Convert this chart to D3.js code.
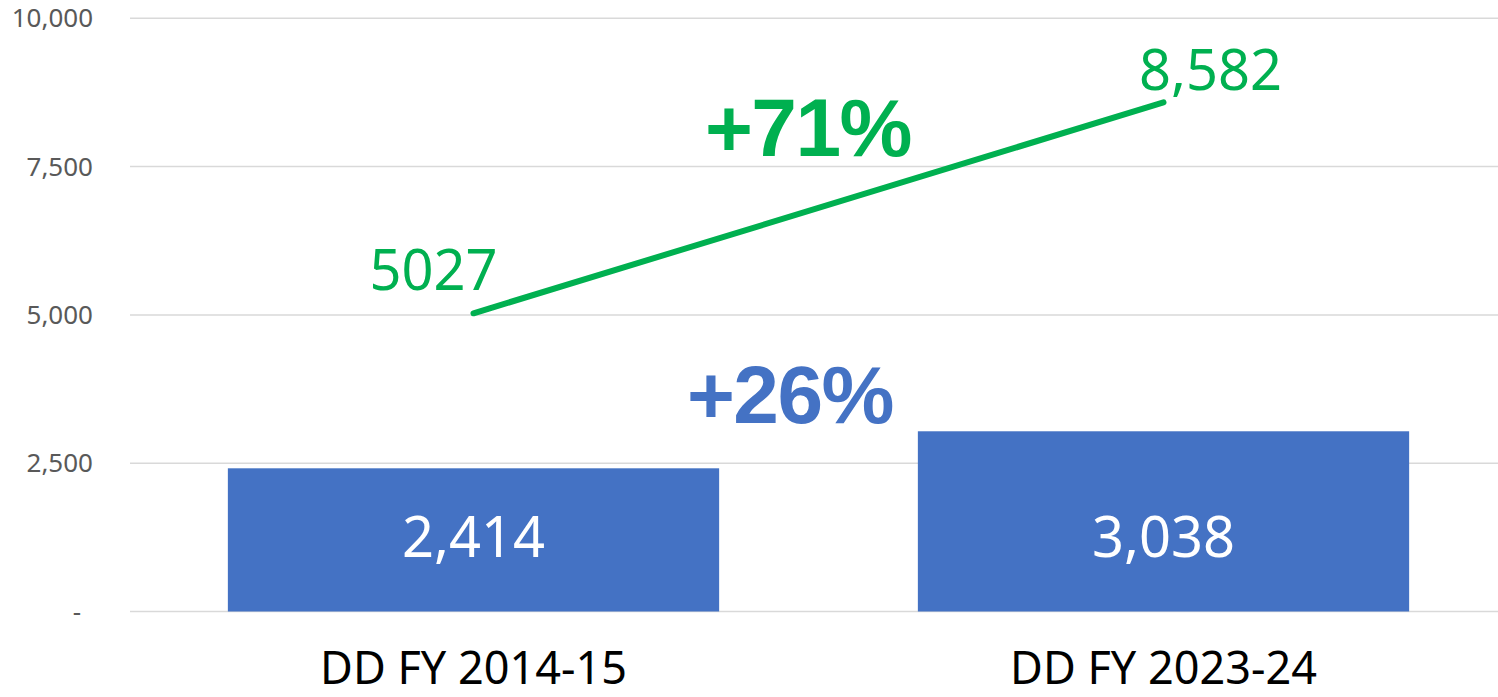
<!DOCTYPE html>
<html>
<head>
<meta charset="utf-8">
<script src="https://cdn.jsdelivr.net/npm/d3@7"></script>
<style>
  html, body { margin: 0; padding: 0; background: #fff; }
  svg { display: block; }
</style>
</head>
<body>
<div id="chart"></div>
<script>
const categories = ["DD FY 2014-15", "DD FY 2023-24"]
const barValues = [2414, 3038]
const barLabels = ["2,414", "3,038"]
const lineValues = [5027, 8582]
const lineLabels = ["5027", "8,582"]
const yTicks = [0, 2500, 5000, 7500, 10000]
const yTickLabels = ["-", "2,500", "5,000", "7,500", "10,000"]
const growthLabels = ["+26%", "+71%"]

const width = 1498, height = 697
const green = "#00B050", blue = "#4472C4"

const x = d3.scaleBand().domain(categories).range([128.5, 1508.5])
  .paddingInner(0.288).paddingOuter(0.144)
const y = d3.scaleLinear().domain([0, 10000]).range([611.5, 18.3])

const svg = d3.select("#chart").append("svg")
  .attr("width", width).attr("height", height)

// gridlines
svg.append("g").selectAll("line").data(yTicks).enter().append("line")
  .attr("x1", 130).attr("x2", width)
  .attr("y1", d => y(d)).attr("y2", d => y(d))
  .attr("stroke", "#d9d9d9").attr("stroke-width", 1.5)

// y axis labels
svg.append("g").selectAll("text").data(yTicks).enter().append("text")
  .attr("x", (d, i) => i === 0 ? 81 : 93)
  .attr("y", d => y(d))
  .attr("dy", "0.35em")
  .attr("text-anchor", "end")
  .attr("font-family", "Noto Sans")
  .attr("font-size", 26)
  .attr("fill", "#595959")
  .text((d, i) => yTickLabels[i])

// bars
svg.append("g").selectAll("rect").data(barValues).enter().append("rect")
  .attr("x", (d, i) => x(categories[i]))
  .attr("width", x.bandwidth())
  .attr("y", d => y(d))
  .attr("height", d => y(0) - y(d))
  .attr("fill", blue)

svg.append("g").selectAll("text").data(barValues).enter().append("text")
  .attr("x", (d, i) => x(categories[i]) + x.bandwidth() / 2)
  .attr("y", 557)
  .attr("text-anchor", "middle")
  .attr("font-family", "Noto Sans")
  .attr("font-size", 56)
  .attr("fill", "#fff")
  .text((d, i) => barLabels[i])

// line
const line = d3.line()
  .x((d, i) => x(categories[i]) + x.bandwidth() / 2)
  .y(d => y(d))

svg.append("path").datum(lineValues)
  .attr("d", line)
  .attr("fill", "none")
  .attr("stroke", green)
  .attr("stroke-width", 6)
  .attr("stroke-linecap", "round")

const lineLabelPos = [{dx: -40, dy: -23}, {dx: 47, dy: -12}]
svg.append("g").selectAll("text").data(lineValues).enter().append("text")
  .attr("x", (d, i) => x(categories[i]) + x.bandwidth() / 2 + lineLabelPos[i].dx)
  .attr("y", (d, i) => y(d) + lineLabelPos[i].dy)
  .attr("text-anchor", "middle")
  .attr("font-family", "Noto Sans")
  .attr("font-size", 56)
  .attr("fill", green)
  .text((d, i) => lineLabels[i])

// growth annotations
svg.append("text")
  .attr("x", 790).attr("y", 423)
  .attr("text-anchor", "middle")
  .attr("font-family", "Liberation Sans")
  .attr("font-weight", "bold")
  .attr("font-size", 82)
  .attr("letter-spacing", -1.5)
  .attr("fill", blue)
  .text(growthLabels[0])

svg.append("text")
  .attr("x", 808).attr("y", 156)
  .attr("text-anchor", "middle")
  .attr("font-family", "Liberation Sans")
  .attr("font-weight", "bold")
  .attr("font-size", 82)
  .attr("letter-spacing", -1.5)
  .attr("fill", green)
  .text(growthLabels[1])

// category labels
svg.append("g").selectAll("text").data(categories).enter().append("text")
  .attr("x", d => x(d) + x.bandwidth() / 2)
  .attr("y", 684)
  .attr("text-anchor", "middle")
  .attr("font-family", "Noto Sans")
  .attr("font-size", 45)
  .attr("fill", "#000")
  .text(d => d)
</script>
</body>
</html>
